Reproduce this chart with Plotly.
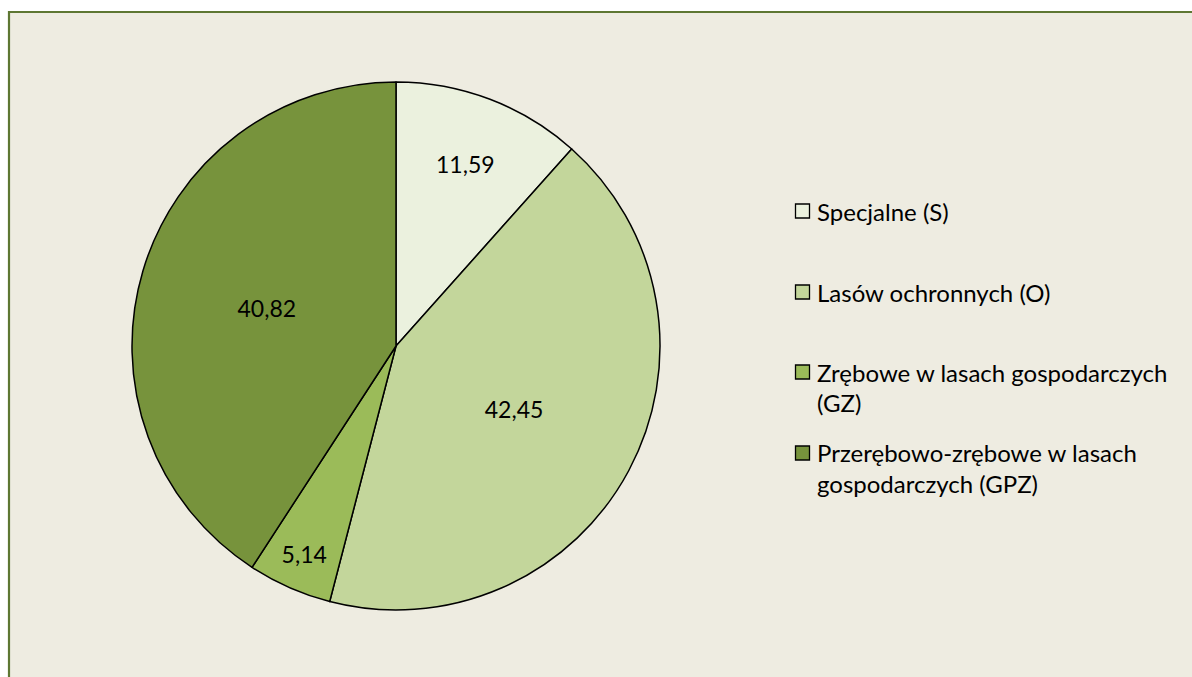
import plotly.graph_objects as go

labels = ["Specjalne (S)", "Lasów ochronnych (O)",
          "Zrębowe w lasach gospodarczych<br>(GZ)",
          "Przerębowo-zrębowe w lasach<br>gospodarczych (GPZ)"]
values = [11.59, 42.45, 5.14, 40.82]
colors = ["#EBF1DE", "#C3D69B", "#9BBB59", "#77933C"]

W, H = 1192, 677
cx, cy, R = 396, 346, 264

fig = go.Figure()
fig.add_trace(go.Pie(
    labels=labels, values=values, sort=False, direction="clockwise", rotation=0,
    marker=dict(colors=colors, line=dict(color="#000000", width=1.5)),
    texttemplate="%{value:.2f}", textposition="inside", insidetextorientation="horizontal",
    textfont=dict(family="Lato", size=23, color="#000000"),
    showlegend=False, hoverinfo="label+value",
    domain=dict(x=[(cx - R) / W, (cx + R) / W], y=[(H - cy - R) / H, (H - cy + R) / H]),
))

shapes = [dict(type="rect", xref="paper", yref="paper", x0=9 / W, x1=1.02, y0=-0.02,
               y1=1 - 12 / H, fillcolor="#EEECE1", line=dict(color="#5E7733", width=2.2),
               layer="below")]
annotations = []
first_line_y = [211, 292, 372, 453]
line_gap = 30
for lab, col, y in zip(labels, colors, first_line_y):
    shapes.append(dict(type="rect", xref="paper", yref="paper",
                       x0=795.5 / W, x1=809.5 / W, y0=1 - (y + 7) / H, y1=1 - (y - 7) / H,
                       fillcolor=col, line=dict(color="#000000", width=1.3)))
    for i, part in enumerate(lab.split("<br>")):
        annotations.append(dict(text=part, xref="paper", yref="paper", x=815 / W,
                                y=1 - (y + i * line_gap) / H, xanchor="left", yanchor="middle",
                                showarrow=False,
                                font=dict(family="Lato", size=24, color="#000000")))

fig.update_layout(width=W, height=H, margin=dict(l=0, r=0, t=0, b=0),
                  paper_bgcolor="#FFFFFF", plot_bgcolor="#FFFFFF",
                  separators=", ", shapes=shapes, annotations=annotations)
fig.write_html("out.html", config={"displayModeBar": False},
               post_script="document.body.style.margin='0px';document.body.style.overflow='hidden';")
